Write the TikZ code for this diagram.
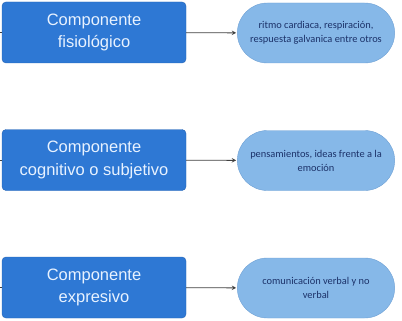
\documentclass[tikz,border=0pt]{standalone}
\usepackage{fontspec}
\setmainfont{Liberation Sans}
\newfontfamily\notefont{Carlito}
\usetikzlibrary{shapes.misc}
\definecolor{boxblue}{RGB}{46,120,212}
\definecolor{boxline}{RGB}{38,100,180}
\definecolor{noteblue}{RGB}{134,184,232}
\definecolor{noteline}{RGB}{110,160,212}
\definecolor{notetext}{RGB}{28,50,105}
\definecolor{boxtext}{RGB}{232,242,255}
\tikzset{
  compbox/.style={draw=boxline, fill=boxblue, rounded corners=4pt,
    minimum width=184pt, minimum height=61pt, text=boxtext, align=center,
    font=\fontsize{16.5}{22.5}\selectfont},
  notebox/.style={draw=noteline, fill=noteblue, rounded rectangle,
    minimum width=164pt, minimum height=60pt, text=notetext, align=center,
    font=\notefont\fontsize{10.4}{14}\selectfont},
  link/.style={draw=black!75, ->, >=stealth, line width=0.9pt, shorten >=1pt}
}
\begin{document}
\begin{tikzpicture}[x=1pt,y=-1pt]
        \useasboundingbox (0,0) rectangle (402,321);
        \def\x{222}
        \def\y{127.5}
        \node[compbox] (A0_0) at (94, 32.5+0*\y) {Componente\\fisiológico};
        \node[compbox] (A1_0) at (94, 32.5+1*\y) {Componente\\cognitivo o subjetivo};
        \node[compbox] (A2_0) at (94, 32.5+2*\y) {Componente\\expresivo};
        \node[notebox] (A0_1) at (94+\x, 33+0*\y) {ritmo cardiaca, respiración,\\respuesta galvanica entre otros};
        \node[notebox] (A1_1) at (94+\x, 33+1*\y) {pensamientos, ideas frente a la\\emoción};
        \node[notebox] (A2_1) at (94+\x, 33+2*\y) {comunicación verbal y no\\verbal};
        % stubs coming in from the left edge
        \coordinate (S0) at (0, 32.5+0*\y);
        \coordinate (S1) at (0, 32.5+1*\y);
        \coordinate (S2) at (0, 32.5+2*\y);
        \draw[black!75, line width=0.8pt] (S0) -- (A0_0.west);
        \draw[black!75, line width=0.8pt] (S1) -- (A1_0.west);
        \draw[black!75, line width=0.8pt] (S2) -- (A2_0.west);
        \path (A0_0) edge [link] (A0_1);
        \path (A1_0) edge [link] (A1_1);
        \path (A2_0) edge [link] (A2_1);
\end{tikzpicture}
\end{document}
